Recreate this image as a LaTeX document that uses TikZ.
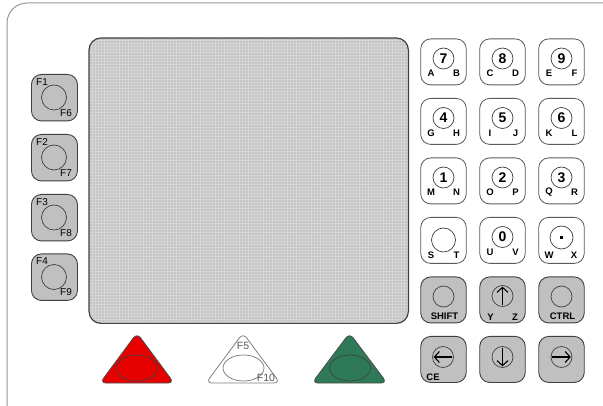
\documentclass[tikz,border=0pt]{standalone}
\usepackage{fontspec}
\setmainfont{Liberation Sans}
\usetikzlibrary{arrows.meta}
\definecolor{keygray}{RGB}{192,192,192}
\definecolor{scr}{RGB}{198,198,198}
\definecolor{edge}{RGB}{64,64,64}
\definecolor{wedge}{RGB}{90,90,90}
\definecolor{framec}{RGB}{150,150,150}
\definecolor{redk}{RGB}{230,0,0}
\definecolor{greenk}{RGB}{46,122,88}
\begin{document}
\begin{tikzpicture}[x=1pt,y=-1pt,
  fkey/.style={draw=edge, fill=keygray, rounded corners=10pt, line width=0.9pt, minimum width=46pt, minimum height=46.5pt, anchor=north west, inner sep=0pt},
  wkey/.style={draw=wedge, fill=white, rounded corners=10pt, line width=0.8pt, minimum width=45.5pt, minimum height=46pt, anchor=north, inner sep=0pt},
  gkey/.style={wkey, draw=edge, fill=keygray, line width=0.9pt},
  ring/.style={circle, draw=edge, line width=0.7pt, minimum size=21pt, inner sep=0pt},
  digit/.style={font=\bfseries\fontsize{14}{14}\selectfont},
  letter/.style={font=\bfseries\fontsize{9.5}{9.5}\selectfont, inner sep=0pt},
  flabel/.style={font=\fontsize{10}{10}\selectfont, inner sep=0pt},
  arr/.style={line width=1.1pt, shorten <=1.5pt, shorten >=1.5pt, -{Straight Barb[length=5pt,width=11pt]}},
  tri/.style={rounded corners=6pt, line width=0.8pt}
]
\useasboundingbox (0,0) rectangle (603,406);
% outer frame
\draw[framec, line width=1pt, rounded corners=20pt] (7,3) rectangle (650,450);
% screen
\node[fill=scr, rounded corners=12pt, minimum width=319pt, minimum height=285pt, anchor=north west, inner sep=0pt] (screen) at (89,38) {};
\begin{scope}
  \clip[rounded corners=12pt] (89,38) rectangle (408,323);
  \foreach \k in {0,...,106} {\draw[white, opacity=0.22, line width=1pt] (89+3*\k,38) -- (89+3*\k,323);}
  \foreach \k in {0,...,95} {\draw[white, opacity=0.22, line width=1pt] (89,38+3*\k) -- (408,38+3*\k);}
\end{scope}
\draw[edge, line width=1.2pt, rounded corners=12pt] (screen.north west) rectangle (screen.south east);
% F keys
\foreach \i/\t/\a/\b in {1/74/F1/F6, 2/134/F2/F7, 3/194/F3/F8, 4/253.5/F4/F9} {
  \node[fkey] (f\i) at (31,\t) {};
  \node[ring, minimum size=25pt] (fc\i) at (54,\t+23.5) {};
  \node[flabel] (fa\i) at (42,\t+8) {\a};
  \node[flabel] (fb\i) at (66,\t+39) {\b};
}
% numeric keys
\foreach \n/\x/\y/\l/\r in {7/443.5/38.5/A/B, 8/502.5/38.5/C/D, 9/561.5/38.5/E/F,
  4/443.5/98/G/H, 5/502.5/98/I/J, 6/561.5/98/K/L,
  1/443.5/157.5/M/N, 2/502.5/157.5/O/P, 3/561.5/157.5/Q/R,
  0/502.5/217/U/V} {
  \node[wkey] (key\n) at (\x,\y) {};
  \node[ring, digit] (ring\n) at (\x,\y+20) {\n};
  \node[letter] (la\n) at (\x-12.5,\y+35) {\l};
  \node[letter] (lb\n) at (\x+13,\y+35) {\r};
}
% S T key
\node[wkey] (keyS) at (443.5,217) {};
\node[ring, minimum size=24pt] (ringS) at (443.5,240) {};
\node[letter] (laS) at (431,255) {S};
\node[letter] (lbS) at (456.5,255) {T};
% dot key
\node[wkey] (keyD) at (561.5,217) {};
\node[ring, minimum size=23pt] (ringD) at (561.5,237.5) {};
\fill[black] (560,236) rectangle (563,239);
\node[letter] (laD) at (549,255) {W};
\node[letter] (lbD) at (574,255) {X};
% gray row
\node[gkey] (keySH) at (443.5,276.5) {};
\node[ring] (ringSH) at (443.5,296.5) {};
\node[letter] (tSH) at (444.5,316.5) {SHIFT};
\node[gkey] (keyUP) at (502.5,276.5) {};
\node[ring] (ringUP) at (502.5,296) {};
\draw[arr] (ringUP.south) -- (ringUP.north);
\node[letter] (laUP) at (490.5,317) {Y};
\node[letter] (lbUP) at (515,317) {Z};
\node[gkey] (keyCT) at (561.5,276.5) {};
\node[ring] (ringCT) at (561.5,296.5) {};
\node[letter] (tCT) at (562.5,316.5) {CTRL};
% arrow row
\node[gkey] (keyL) at (443.5,336) {};
\node[ring] (ringL) at (443,357) {};
\draw[arr] (ringL.east) -- (ringL.west);
\node[letter] (tCE) at (433,377) {CE};
\node[gkey] (keyDN) at (502.5,336) {};
\node[ring] (ringDN) at (502.5,357) {};
\draw[arr] (ringDN.north) -- (ringDN.south);
\node[gkey] (keyR) at (561.5,336) {};
\node[ring] (ringR) at (561.5,357) {};
\draw[arr] (ringR.west) -- (ringR.east);
% triangles
\draw[tri, fill=redk, draw=black!70] (100,383) -- (137,333) -- (174,383) -- cycle;
\draw[black!75, line width=0.7pt] (137,368) ellipse [x radius=20.5pt, y radius=13pt];
\draw[tri, fill=white, draw=black!50] (206,383) -- (243,333) -- (280,383) -- cycle;
\draw[black!55, line width=0.7pt] (243.5,368) ellipse [x radius=20.5pt, y radius=13pt];
\node[flabel, text=black!65, font=\fontsize{10.5}{10.5}\selectfont] (f5) at (243,346) {F5};
\node[flabel, text=black!65, font=\fontsize{10.5}{10.5}\selectfont] (f10) at (266,378) {F10};
\draw[tri, fill=greenk, draw=black!70] (312,383) -- (349.5,333) -- (387,383) -- cycle;
\draw[black!75, line width=0.7pt] (350,368) ellipse [x radius=20.5pt, y radius=13pt];
\end{tikzpicture}
\end{document}
